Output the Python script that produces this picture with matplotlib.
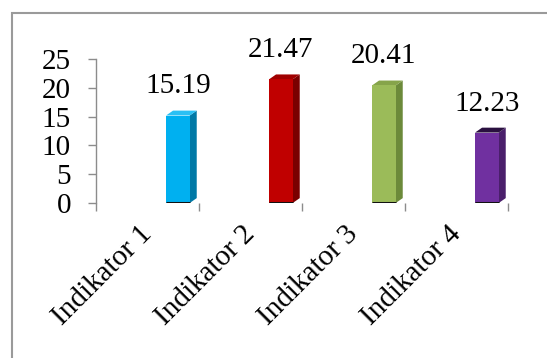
import matplotlib
matplotlib.use("Agg")
import matplotlib.pyplot as plt
from matplotlib.patches import Polygon, Rectangle
from matplotlib.transforms import ScaledTranslation

categories = ["Indikator 1", "Indikator 2", "Indikator 3", "Indikator 4"]
values = [15.19, 21.47, 20.41, 12.23]
front_colors = ["#00B0F0", "#C00000", "#9BBB59", "#7030A0"]
side_colors = ["#0079A6", "#7A0000", "#6C8A3A", "#4A1F6B"]
top_colors = ["#2AC0F4", "#A00000", "#86A44A", "#2A1040"]
y_ticks = [0, 5, 10, 15, 20, 25]

W, H = 547, 358
fig = plt.figure(figsize=(W / 100, H / 100), dpi=100)
fig.patch.set_facecolor("white")
font = "Liberation Serif"
fs = 21

ax = fig.add_axes([96 / W, 1 - 203 / H, (508 - 96) / W, (203 - 59) / H])
ax.set_xlim(-0.5, 3.5)
ax.set_ylim(0, 25)
ax.set_facecolor("none")

off = 0.18      # bar front offset from category centre
bw = 0.23       # front width
dx = 0.068      # depth in x
dy = 0.85       # depth in y

xs = [i + off for i in range(len(values))]
ax.bar(xs, values, width=bw, align="edge", color=front_colors, linewidth=0, zorder=3)
for i, v in enumerate(values):
    x0 = xs[i]
    side = Polygon([(x0 + bw, 0), (x0 + bw, v), (x0 + bw + dx, v + dy), (x0 + bw + dx, dy)],
                   closed=True, facecolor=side_colors[i], edgecolor="none", zorder=2)
    top = Polygon([(x0, v), (x0 + bw, v), (x0 + bw + dx, v + dy), (x0 + dx, v + dy)],
                  closed=True, facecolor=top_colors[i], edgecolor="none", zorder=2)
    ax.add_patch(side)
    ax.add_patch(top)
    ax.plot([x0, x0 + bw], [0, 0], color="#111111", lw=2.2, zorder=4, solid_capstyle="butt")
    ax.annotate(f"{v:.2f}", xy=(x0 + bw / 2, v + dy), xytext=(0, 8), textcoords="offset points",
                ha="center", va="bottom", fontsize=fs, family=font, color="black")

for s in ["top", "right", "bottom"]:
    ax.spines[s].set_visible(False)
ax.spines["left"].set_color("#8C8C8C")
ax.spines["left"].set_linewidth(1.0)

ax.set_yticks(y_ticks)
ax.set_yticklabels([str(t) for t in y_ticks], fontsize=fs, family=font)
ax.tick_params(axis="y", length=6, width=1.0, color="#8C8C8C", pad=12)

ax.set_xticks(range(len(categories)))
ax.set_xticklabels(categories, fontsize=fs, family=font, rotation=45, ha="right",
                   rotation_mode="anchor")
ax.tick_params(axis="x", which="major", length=0, pad=15)
shift = ScaledTranslation(-6 / 72, 2 / 72, fig.dpi_scale_trans)
for lbl in ax.get_xticklabels():
    lbl.set_transform(lbl.get_transform() + shift)
ax.set_xticks([i - 0.5 for i in range(len(categories) + 1)], minor=True)
ax.tick_params(axis="x", which="minor", length=6, width=1.0, color="#8C8C8C")

border = Rectangle((11.5 / W, -0.1), 1.2, 1 - 12.5 / H + 0.1, transform=fig.transFigure,
                   fill=False, edgecolor="#9A9A9A", linewidth=1.5)
fig.patches.append(border)

fig.savefig("out.png", dpi=100)
